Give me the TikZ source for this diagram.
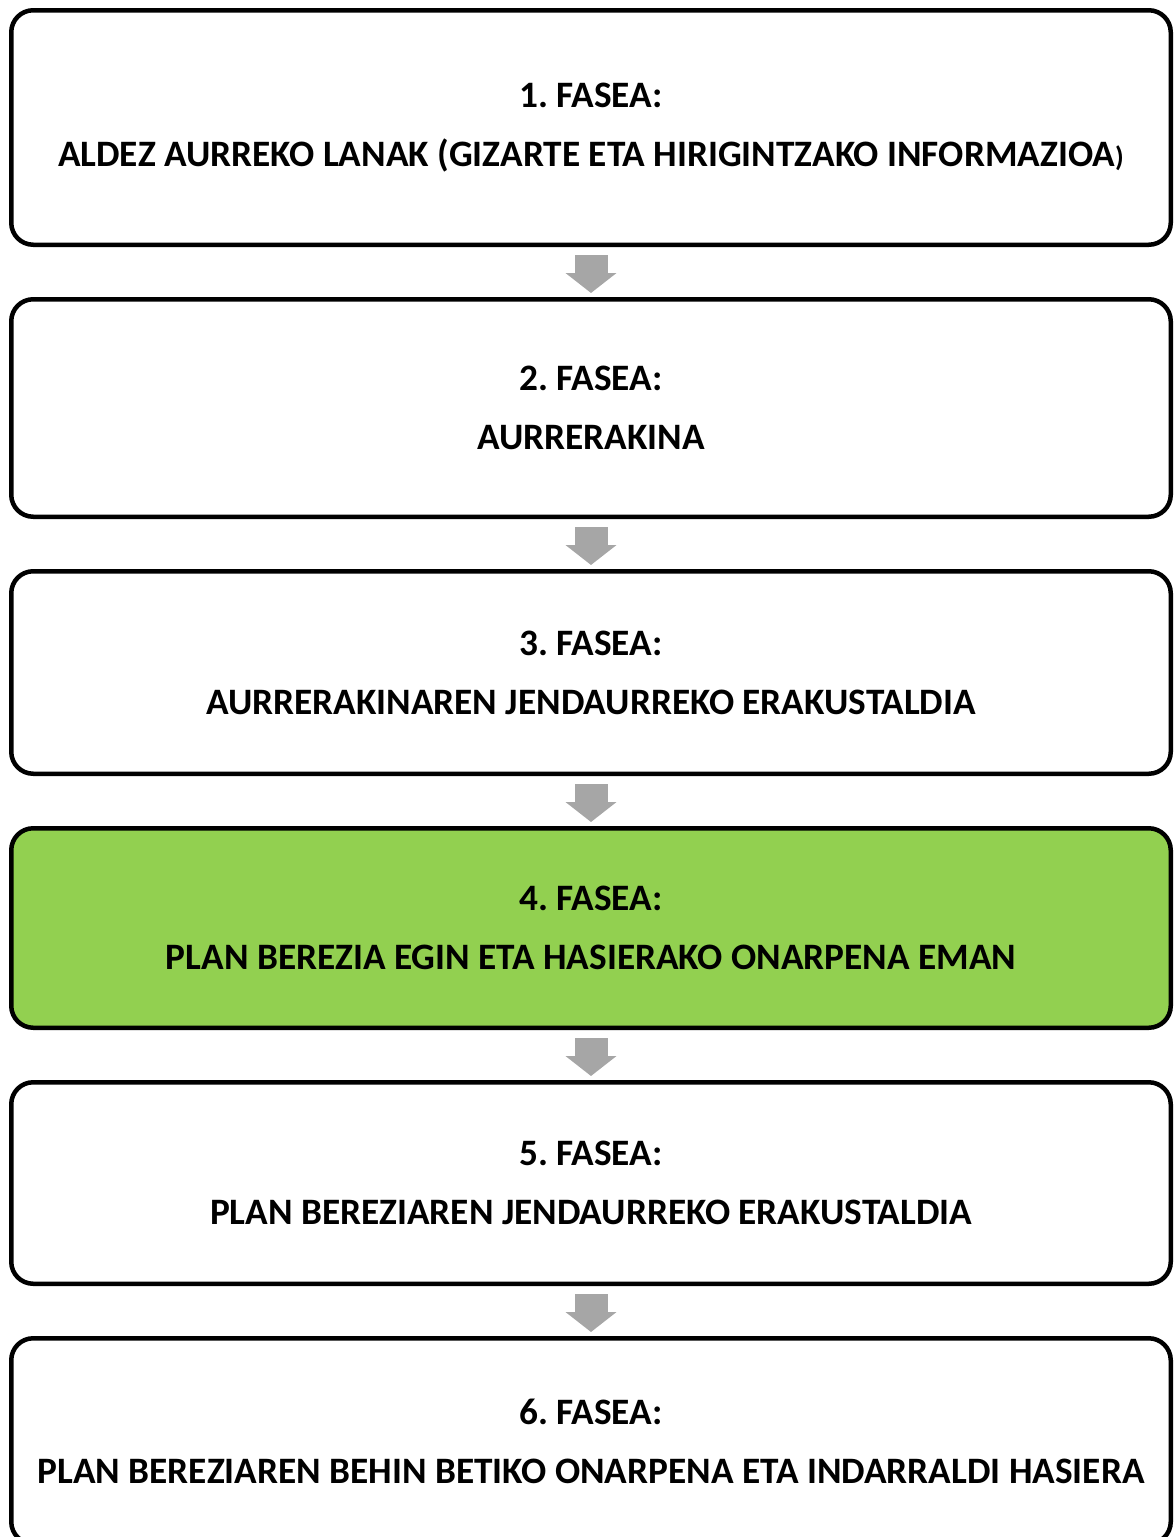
\documentclass[tikz,border=0pt]{standalone}
\usepackage{fontspec}
\setmainfont{Carlito}
\usetikzlibrary{arrows.meta, positioning}
\definecolor{phasegreen}{RGB}{146,208,80}
\definecolor{arrowgray}{RGB}{166,166,166}
\tikzset{
  phase/.style={rectangle, draw=black, fill=white, line width=4.5pt,
    rounded corners=22pt, minimum width=1159.5pt, align=center,
    font=\fontsize{37.3}{59}\selectfont\bfseries\frenchspacing},
  greenphase/.style={phase, fill=phasegreen},
  downarrow/.style={-{Triangle[width=50pt, length=20pt]}, line width=33pt,
    color=arrowgray, shorten <=8pt, shorten >=4pt}
}

\begin{document}
\begin{tikzpicture}[x=1pt, y=1pt, node distance=50pt]
  \useasboundingbox (0,0) rectangle (1175,-1537);

  \node[phase, minimum height=234.5pt] at (591,-127.5) (fase1) {1. FASEA:\\ALDEZ AURREKO LANAK (GIZARTE ETA HIRIGINTZAKO INFORMAZIOA{\fontsize{28}{28}\selectfont )}};
  \node[phase, minimum height=217.5pt, below=of fase1] (fase2) {2. FASEA:\\AURRERAKINA};
  \node[phase, minimum height=202.5pt, below=of fase2] (fase3) {3. FASEA:\\AURRERAKINAREN JENDAURREKO ERAKUSTALDIA};
  \node[greenphase, minimum height=199.5pt, below=of fase3] (fase4) {4. FASEA:\\PLAN BEREZIA EGIN ETA HASIERAKO ONARPENA EMAN};
  \node[phase, minimum height=201.5pt, below=of fase4] (fase5) {5. FASEA:\\PLAN BEREZIAREN JENDAURREKO ERAKUSTALDIA};
  \node[phase, minimum height=205.5pt, below=of fase5] (fase6) {6. FASEA:\\PLAN BEREZIAREN BEHIN BETIKO ONARPENA ETA INDARRALDI HASIERA};

  \draw[downarrow] (fase1) -- (fase2);
  \draw[downarrow] (fase2) -- (fase3);
  \draw[downarrow] (fase3) -- (fase4);
  \draw[downarrow] (fase4) -- (fase5);
  \draw[downarrow] (fase5) -- (fase6);
\end{tikzpicture}
\end{document}
